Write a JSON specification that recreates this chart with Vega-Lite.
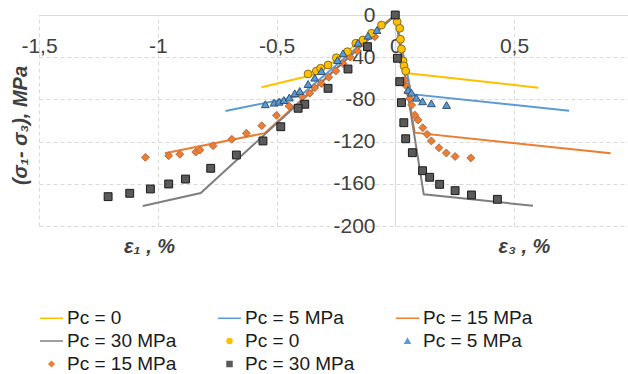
{
  "$schema": "https://vega.github.io/schema/vega-lite/v6.json",
  "width": 589,
  "height": 211,
  "autosize": {"type": "none"},
  "padding": {"left": 39, "top": 15, "right": 0, "bottom": 148},
  "background": "white",
  "config": {"view": {"stroke": null}, "font": "Liberation Sans"},
  "datasets": {
    "lines": [
      {"s": "L|Pc = 0", "x": -0.563, "y": -68.5},
      {"s": "L|Pc = 0", "x": -0.33, "y": -56},
      {"s": "L|Pc = 0", "x": 0, "y": 0},
      {"s": "L|Pc = 0", "x": 0.045, "y": -55},
      {"s": "L|Pc = 0", "x": 0.603, "y": -68.9},
      {"s": "L|Pc = 5 MPa", "x": -0.715, "y": -91},
      {"s": "L|Pc = 5 MPa", "x": -0.40, "y": -76.5},
      {"s": "L|Pc = 5 MPa", "x": 0, "y": 0},
      {"s": "L|Pc = 5 MPa", "x": 0.068, "y": -75},
      {"s": "L|Pc = 5 MPa", "x": 0.732, "y": -90.7},
      {"s": "L|Pc = 15 MPa", "x": -0.97, "y": -131},
      {"s": "L|Pc = 15 MPa", "x": -0.55, "y": -112},
      {"s": "L|Pc = 15 MPa", "x": 0, "y": 0},
      {"s": "L|Pc = 15 MPa", "x": 0.082, "y": -111.5},
      {"s": "L|Pc = 15 MPa", "x": 0.907, "y": -131},
      {"s": "L|Pc = 30 MPa", "x": -1.063, "y": -181},
      {"s": "L|Pc = 30 MPa", "x": -0.819, "y": -168.7},
      {"s": "L|Pc = 30 MPa", "x": 0, "y": 0},
      {"s": "L|Pc = 30 MPa", "x": 0.12, "y": -170},
      {"s": "L|Pc = 30 MPa", "x": 0.58, "y": -180.8}
    ],
    "pts": [
      {"s": "P|Pc = 15 MPa", "x": -1.052, "y": -134.9},
      {"s": "P|Pc = 15 MPa", "x": -0.954, "y": -133.4},
      {"s": "P|Pc = 15 MPa", "x": -0.907, "y": -132},
      {"s": "P|Pc = 15 MPa", "x": -0.84, "y": -129.9},
      {"s": "P|Pc = 15 MPa", "x": -0.823, "y": -128},
      {"s": "P|Pc = 15 MPa", "x": -0.767, "y": -123.9},
      {"s": "P|Pc = 15 MPa", "x": -0.688, "y": -117.8},
      {"s": "P|Pc = 15 MPa", "x": -0.627, "y": -112.1},
      {"s": "P|Pc = 15 MPa", "x": -0.562, "y": -104.9},
      {"s": "P|Pc = 15 MPa", "x": -0.5, "y": -95.1},
      {"s": "P|Pc = 15 MPa", "x": -0.447, "y": -86.3},
      {"s": "P|Pc = 15 MPa", "x": -0.392, "y": -77.4},
      {"s": "P|Pc = 15 MPa", "x": -0.36, "y": -74.2},
      {"s": "P|Pc = 15 MPa", "x": -0.339, "y": -69},
      {"s": "P|Pc = 15 MPa", "x": -0.311, "y": -65},
      {"s": "P|Pc = 15 MPa", "x": -0.28, "y": -59},
      {"s": "P|Pc = 15 MPa", "x": -0.25, "y": -53},
      {"s": "P|Pc = 15 MPa", "x": -0.22, "y": -46},
      {"s": "P|Pc = 15 MPa", "x": -0.19, "y": -40},
      {"s": "P|Pc = 15 MPa", "x": -0.16, "y": -34},
      {"s": "P|Pc = 15 MPa", "x": -0.13, "y": -28},
      {"s": "P|Pc = 15 MPa", "x": -0.086, "y": -20.6},
      {"s": "P|Pc = 15 MPa", "x": 0.04, "y": -61.6},
      {"s": "P|Pc = 15 MPa", "x": 0.047, "y": -67.3},
      {"s": "P|Pc = 15 MPa", "x": 0.054, "y": -73.3},
      {"s": "P|Pc = 15 MPa", "x": 0.061, "y": -79},
      {"s": "P|Pc = 15 MPa", "x": 0.069, "y": -85.3},
      {"s": "P|Pc = 15 MPa", "x": 0.082, "y": -94.8},
      {"s": "P|Pc = 15 MPa", "x": 0.096, "y": -99.5},
      {"s": "P|Pc = 15 MPa", "x": 0.116, "y": -106.8},
      {"s": "P|Pc = 15 MPa", "x": 0.134, "y": -113.1},
      {"s": "P|Pc = 15 MPa", "x": 0.152, "y": -119.4},
      {"s": "P|Pc = 15 MPa", "x": 0.184, "y": -125.8},
      {"s": "P|Pc = 15 MPa", "x": 0.215, "y": -130.8},
      {"s": "P|Pc = 15 MPa", "x": 0.252, "y": -134.1},
      {"s": "P|Pc = 15 MPa", "x": 0.318, "y": -135.5},
      {"s": "P|Pc = 0", "x": -0.367, "y": -55.9},
      {"s": "P|Pc = 0", "x": -0.332, "y": -53.1},
      {"s": "P|Pc = 0", "x": -0.314, "y": -50.5},
      {"s": "P|Pc = 0", "x": -0.283, "y": -47.4},
      {"s": "P|Pc = 0", "x": -0.248, "y": -40.5},
      {"s": "P|Pc = 0", "x": -0.201, "y": -34.8},
      {"s": "P|Pc = 0", "x": -0.166, "y": -26.8},
      {"s": "P|Pc = 0", "x": -0.136, "y": -23.7},
      {"s": "P|Pc = 0", "x": -0.1, "y": -17.3},
      {"s": "P|Pc = 0", "x": -0.058, "y": -9.5},
      {"s": "P|Pc = 0", "x": 0.008, "y": -6.4},
      {"s": "P|Pc = 0", "x": 0.019, "y": -12.6},
      {"s": "P|Pc = 0", "x": 0.022, "y": -23},
      {"s": "P|Pc = 0", "x": 0.026, "y": -32.2},
      {"s": "P|Pc = 0", "x": 0.033, "y": -43.6},
      {"s": "P|Pc = 0", "x": 0.037, "y": -48.3},
      {"s": "P|Pc = 0", "x": 0.044, "y": -53.1},
      {"s": "P|Pc = 5 MPa", "x": -0.547, "y": -84.6},
      {"s": "P|Pc = 5 MPa", "x": -0.51, "y": -83.1},
      {"s": "P|Pc = 5 MPa", "x": -0.489, "y": -82.2},
      {"s": "P|Pc = 5 MPa", "x": -0.469, "y": -80.6},
      {"s": "P|Pc = 5 MPa", "x": -0.446, "y": -78.2},
      {"s": "P|Pc = 5 MPa", "x": -0.423, "y": -74.2},
      {"s": "P|Pc = 5 MPa", "x": -0.402, "y": -72},
      {"s": "P|Pc = 5 MPa", "x": -0.367, "y": -65.4},
      {"s": "P|Pc = 5 MPa", "x": -0.339, "y": -59.4},
      {"s": "P|Pc = 5 MPa", "x": -0.311, "y": -53.1},
      {"s": "P|Pc = 5 MPa", "x": -0.243, "y": -42.7},
      {"s": "P|Pc = 5 MPa", "x": -0.22, "y": -36.3},
      {"s": "P|Pc = 5 MPa", "x": -0.157, "y": -26.3},
      {"s": "P|Pc = 5 MPa", "x": -0.115, "y": -19.6},
      {"s": "P|Pc = 5 MPa", "x": -0.077, "y": -14.2},
      {"s": "P|Pc = 5 MPa", "x": 0.054, "y": -71},
      {"s": "P|Pc = 5 MPa", "x": 0.068, "y": -73.6},
      {"s": "P|Pc = 5 MPa", "x": 0.089, "y": -78.4},
      {"s": "P|Pc = 5 MPa", "x": 0.115, "y": -81.8},
      {"s": "P|Pc = 5 MPa", "x": 0.152, "y": -83.7},
      {"s": "P|Pc = 5 MPa", "x": 0.216, "y": -85.3},
      {"s": "P|Pc = 30 MPa", "x": 0, "y": 0},
      {"s": "P|Pc = 30 MPa", "x": -0.117, "y": -30},
      {"s": "P|Pc = 30 MPa", "x": -0.199, "y": -51.2},
      {"s": "P|Pc = 30 MPa", "x": -0.283, "y": -69.5},
      {"s": "P|Pc = 30 MPa", "x": -0.381, "y": -84.6},
      {"s": "P|Pc = 30 MPa", "x": -0.409, "y": -88.4},
      {"s": "P|Pc = 30 MPa", "x": -0.482, "y": -105.9},
      {"s": "P|Pc = 30 MPa", "x": -0.557, "y": -119.4},
      {"s": "P|Pc = 30 MPa", "x": -0.669, "y": -132.7},
      {"s": "P|Pc = 30 MPa", "x": -0.777, "y": -145.3},
      {"s": "P|Pc = 30 MPa", "x": -0.883, "y": -155.5},
      {"s": "P|Pc = 30 MPa", "x": -0.954, "y": -160.2},
      {"s": "P|Pc = 30 MPa", "x": -1.031, "y": -164.9},
      {"s": "P|Pc = 30 MPa", "x": -1.118, "y": -169},
      {"s": "P|Pc = 30 MPa", "x": -1.209, "y": -172.2},
      {"s": "P|Pc = 30 MPa", "x": 0.009, "y": -41},
      {"s": "P|Pc = 30 MPa", "x": 0.019, "y": -63.2},
      {"s": "P|Pc = 30 MPa", "x": 0.026, "y": -83.1},
      {"s": "P|Pc = 30 MPa", "x": 0.036, "y": -102.1},
      {"s": "P|Pc = 30 MPa", "x": 0.044, "y": -117.3},
      {"s": "P|Pc = 30 MPa", "x": 0.072, "y": -130.5},
      {"s": "P|Pc = 30 MPa", "x": 0.115, "y": -147.6},
      {"s": "P|Pc = 30 MPa", "x": 0.145, "y": -153.8},
      {"s": "P|Pc = 30 MPa", "x": 0.187, "y": -160.5},
      {"s": "P|Pc = 30 MPa", "x": 0.252, "y": -166.5},
      {"s": "P|Pc = 30 MPa", "x": 0.321, "y": -170.6},
      {"s": "P|Pc = 30 MPa", "x": 0.43, "y": -174.7}
    ]
  },
  "layer": [
    {
      "data": {"name": "lines"},
      "mark": {"type": "line", "strokeWidth": 2},
      "encoding": {
        "x": {
          "field": "x", "type": "quantitative",
          "scale": {"domain": [-1.5, 0.98], "nice": false, "zero": false},
          "axis": {
            "orient": "top", "values": [-1.5, -1, -0.5, 0, 0.5],
            "labelExpr": "replace('' + datum.value, '.', ',')",
            "labelFlush": false, "labelOverlap": false,
            "labelFont": "Liberation Sans", "labelFontSize": 21, "labelColor": "#404040",
            "labelPadding": -37, "labelBaseline": "alphabetic", "labelAlign": "center",
            "ticks": false, "tickSize": 0, "domain": false,
            "grid": true, "gridColor": "#D9D9D9", "gridWidth": 1,
            "gridDash": {"condition": {"test": "datum.value === 0", "value": []}, "value": [4, 3]},
            "title": "ε₁ , %", "titleFont": "Liberation Sans", "titleFontSize": 20,
            "titleFontWeight": "bold", "titleFontStyle": "italic", "titleColor": "#404040",
            "titleX": 110, "titleY": 231, "titleAlign": "center", "titleBaseline": "middle", "titleAngle": 0
          }
        },
        "y": {
          "field": "y", "type": "quantitative",
          "scale": {"domain": [-200, 0], "nice": false, "zero": false},
          "axis": {
            "orient": "left", "values": [0, -40, -80, -120, -160, -200],
            "labelExpr": "'' + datum.value",
            "labelFlush": false, "labelOverlap": false,
            "labelFont": "Liberation Sans", "labelFontSize": 21, "labelColor": "#404040",
            "labelPadding": -336, "labelAlign": "right", "labelBaseline": "middle",
            "ticks": false, "tickSize": 0, "domain": false,
            "grid": true, "gridColor": "#D9D9D9", "gridWidth": 1,
            "gridDash": {"condition": {"test": "datum.value === 0", "value": []}, "value": [4, 3]},
            "title": "(σ₁- σ₃), MPa", "titleFont": "Liberation Sans", "titleFontSize": 20,
            "titleFontWeight": "bold", "titleFontStyle": "italic", "titleColor": "#404040",
            "titleX": -19, "titleY": 110, "titleAngle": -90, "titleAlign": "center", "titleBaseline": "middle"
          }
        },
        "color": {
          "field": "s", "type": "nominal",
          "scale": {
            "domain": ["L|Pc = 0", "L|Pc = 5 MPa", "L|Pc = 15 MPa", "L|Pc = 30 MPa", "P|Pc = 0", "P|Pc = 5 MPa", "P|Pc = 15 MPa", "P|Pc = 30 MPa"],
            "range": ["#FFC000", "#5B9BD5", "#ED7D31", "#7F7F7F", "#FFC000", "#5B9BD5", "#ED7D31", "#5A5A5A"]
          },
          "legend": {
            "orient": "none", "legendX": 3, "legendY": 293.5, "title": null,
            "direction": "horizontal",
            "columns": 3, "columnPadding": 38, "rowPadding": 3, "padding": 0,
            "symbolType": "circle", "symbolSize": 25, "symbolStrokeWidth": 1.5,
            "labelFont": "Liberation Sans", "labelFontSize": 19, "labelColor": "#1a1a1a",
            "labelOffset": 6, "labelLimit": 250,
            "labelExpr": "substring(datum.value, 2)",
            "encode": {
              "symbols": {
                "update": {
                  "shape": [
                    {"test": "indexof(datum.value, 'L|') == 0", "value": "M-4.6,0H4.6"},
                    {"test": "datum.value == 'P|Pc = 0'", "value": "circle"},
                    {"test": "datum.value == 'P|Pc = 5 MPa'", "value": "triangle-up"},
                    {"test": "datum.value == 'P|Pc = 15 MPa'", "value": "diamond"},
                    {"value": "square"}
                  ],
                  "stroke": [
                    {"test": "datum.value == 'L|Pc = 0'", "value": "#FFC000"},
                    {"test": "datum.value == 'L|Pc = 5 MPa'", "value": "#5B9BD5"},
                    {"test": "datum.value == 'L|Pc = 15 MPa'", "value": "#ED7D31"},
                    {"test": "datum.value == 'L|Pc = 30 MPa'", "value": "#7F7F7F"},
                    {"test": "datum.value == 'P|Pc = 0'", "value": "#B08800"},
                    {"test": "datum.value == 'P|Pc = 5 MPa'", "value": "#41719C"},
                    {"test": "datum.value == 'P|Pc = 15 MPa'", "value": "#C86A35"},
                    {"value": "#262626"}
                  ],
                  "fill": [
                    {"test": "datum.value == 'P|Pc = 0'", "value": "#FFC000"},
                    {"test": "datum.value == 'P|Pc = 5 MPa'", "value": "#5B9BD5"},
                    {"test": "datum.value == 'P|Pc = 15 MPa'", "value": "#ED7D31"},
                    {"test": "datum.value == 'P|Pc = 30 MPa'", "value": "#5A5A5A"},
                    {"value": "transparent"}
                  ],
                  "opacity": {"value": 1}
                }
              }
            }
          }
        }
      }
    },
    {
      "data": {"name": "pts"},
      "mark": {"type": "point", "filled": true, "opacity": 1, "size": 62, "strokeWidth": 1},
      "encoding": {
        "x": {
          "field": "x", "type": "quantitative",
          "axis": {
            "orient": "bottom", "grid": false, "labels": false, "ticks": false, "domain": false,
            "title": "ε₃ , %", "titleFont": "Liberation Sans", "titleFontSize": 20,
            "titleFontWeight": "bold", "titleFontStyle": "italic", "titleColor": "#404040",
            "titleX": 485, "titleY": 20, "titleAlign": "center", "titleBaseline": "middle", "titleAngle": 0
          }
        },
        "y": {
          "field": "y", "type": "quantitative",
          "axis": {
            "orient": "left", "values": [0, -40, -80, -120, -160, -200],
            "labelExpr": "'' + datum.value",
            "labelFlush": false, "labelOverlap": false,
            "labelFont": "Liberation Sans", "labelFontSize": 21, "labelColor": "#404040",
            "labelPadding": -336, "labelAlign": "right", "labelBaseline": "middle",
            "ticks": false, "tickSize": 0, "domain": false,
            "grid": true, "gridColor": "#D9D9D9", "gridWidth": 1,
            "gridDash": {"condition": {"test": "datum.value === 0", "value": []}, "value": [4, 3]},
            "title": "(σ₁- σ₃), MPa", "titleFont": "Liberation Sans", "titleFontSize": 20,
            "titleFontWeight": "bold", "titleFontStyle": "italic", "titleColor": "#404040",
            "titleX": -19, "titleY": 110, "titleAngle": -90, "titleAlign": "center", "titleBaseline": "middle"
          }
        },
        "color": {"field": "s", "type": "nominal"},
        "shape": {
          "field": "s", "type": "nominal",
          "scale": {
            "domain": ["P|Pc = 0", "P|Pc = 5 MPa", "P|Pc = 15 MPa", "P|Pc = 30 MPa"],
            "range": ["circle", "triangle-up", "diamond", "square"]
          },
          "legend": null
        },
        "stroke": {
          "field": "s", "type": "nominal",
          "scale": {
            "domain": ["P|Pc = 0", "P|Pc = 5 MPa", "P|Pc = 15 MPa", "P|Pc = 30 MPa"],
            "range": ["#8A7020", "#33506E", "#B86A45", "#1A1A1A"]
          },
          "legend": null
        }
      }
    }
  ],
  "resolve": {"axis": {"x": "independent"}}
}
